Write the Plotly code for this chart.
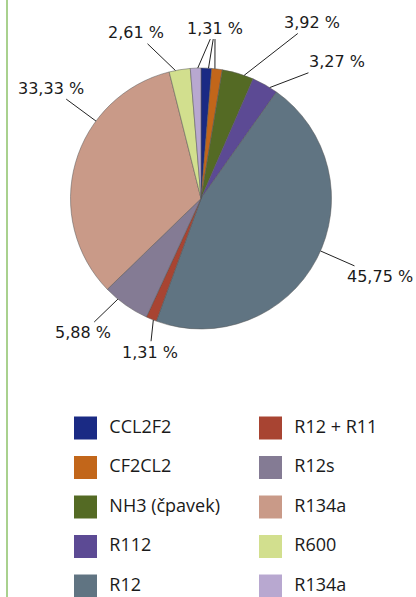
import numpy as np
import plotly.graph_objects as go

refrigerants = ["CCL2F2", "CF2CL2", "NH3 (čpavek)", "R112", "R12",
                "R12 + R11", "R12s", "R134a", "R600", "R134a"]
shares = [1.31, 1.31, 3.92, 3.27, 45.75, 1.31, 5.88, 33.33, 2.61, 1.31]
colors = ["#1a2a84", "#c2661a", "#546a24", "#5c4a94", "#607482",
          "#a84432", "#847b94", "#c99a88", "#d2df8e", "#b8a8d0"]

W, H = 416, 597
cx, cy, r = 201, 198.5, 130.5

# label placement (angle clockwise from top in deg, distance of text centre from pie centre in px)
label_place = {
    0: (4.7, 171), 1: (4.7, 171), 9: (4.7, 171),
    2: (32.2, 208), 3: (44.9, 193), 4: (113.7, 195),
    5: (198.4, 162), 6: (221.3, 179), 7: (306.4, 186), 8: (338.6, 178),
}
cluster_text_on = 0

fig = go.Figure()

fig.add_trace(go.Pie(
    labels=[f"{i}" for i in range(len(shares))],
    values=shares,
    hovertext=refrigerants,
    hoverinfo="text+percent",
    marker=dict(colors=colors, line=dict(color="#555555", width=0.5)),
    sort=False,
    direction="clockwise",
    rotation=0,
    textinfo="none",
    showlegend=False,
    domain=dict(x=[(cx - r) / W, (cx + r) / W], y=[1 - (cy + r) / H, 1 - (cy - r) / H]),
))

total = sum(shares)
edges = np.concatenate([[0], np.cumsum(shares)]) / total * 360

for i, v in enumerate(shares):
    start, end = edges[i], edges[i + 1]
    mid = (start + end) / 2
    la, dist = label_place[i]
    la_u = mid + ((la - mid + 180) % 360 - 180)
    w = end - start
    ha = min(max(la_u, start + 0.3 * w), end - 0.3 * w)
    hx = cx + r * np.sin(np.radians(ha))
    hy = cy - r * np.cos(np.radians(ha))
    tx = cx + dist * np.sin(np.radians(la))
    ty = cy - dist * np.cos(np.radians(la))
    txt = f"{v:.2f}".replace(".", ",") + " %"
    in_cluster = i in (0, 1, 9)
    fig.add_annotation(
        x=hx / W, y=1 - hy / H, xref="paper", yref="paper",
        ax=tx - hx, ay=ty - hy,
        text=txt,
        showarrow=True, arrowhead=0, arrowwidth=1, arrowcolor="#222222", standoff=0,
        font=dict(family="DejaVu Sans", size=16,
                  color="#1a1a1a" if (not in_cluster or i == cluster_text_on) else "rgba(0,0,0,0)"),
    )

# legend built as a scatter grid
cols = [i // 5 for i in range(len(refrigerants))]
rows = [i % 5 for i in range(len(refrigerants))]

fig.add_trace(go.Scatter(
    x=cols, y=[-rw for rw in rows], mode="markers",
    marker=dict(symbol="square", size=23, color=colors, line=dict(width=0)),
    showlegend=False, hoverinfo="skip", cliponaxis=False,
))
fig.add_trace(go.Scatter(
    x=[c + 0.129 for c in cols], y=[-rw for rw in rows], mode="text",
    text=refrigerants, textposition="middle right",
    textfont=dict(family="Open Sans", size=18, color="#1a1a1a"),
    showlegend=False, hoverinfo="skip", cliponaxis=False,
))

fig.add_shape(type="line", xref="paper", yref="paper",
              x0=7 / W, x1=7 / W, y0=0, y1=1,
              line=dict(color="#a9d18e", width=2))

fig.update_layout(
    width=W, height=H,
    margin=dict(l=0, r=0, t=0, b=0),
    paper_bgcolor="white", plot_bgcolor="white",
    xaxis=dict(visible=False, range=[-85.5 / 185, (W - 85.5) / 185], domain=[0, 1], fixedrange=True),
    yaxis=dict(visible=False, range=[-(H - 428) / 39.5, 428 / 39.5], domain=[0, 1], fixedrange=True),
)

fig.write_html("out.html", config={"displayModeBar": False},
               post_script="document.body.style.margin = '0';")
